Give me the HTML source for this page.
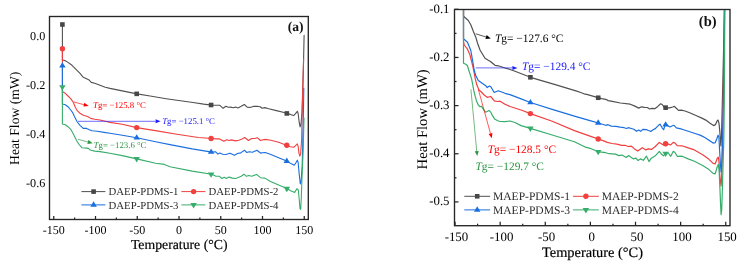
<!DOCTYPE html>
<html><head><meta charset="utf-8"><style>
html,body{margin:0;padding:0;background:#fff;width:746px;height:270px;overflow:hidden}
svg{display:block;font-family:"Liberation Serif",serif}
text{text-rendering:geometricPrecision}
svg{will-change:transform}
</style></head><body>
<svg width="746" height="270" viewBox="0 0 746 270"><clipPath id="ca"><rect x="49.5" y="16.5" width="258.8" height="203.0"/></clipPath>
<g clip-path="url(#ca)">
<polyline points="62.4,24.5 62.4,60.0 62.9,60.0 65.3,60.7 68.0,62.4 72.0,65.3 76.0,69.3 80.0,73.3 83.3,77.3 86.0,78.4 88.7,79.7 91.3,82.4 94.7,83.3 100.0,85.3 105.3,87.3 110.0,88.4 122.2,90.9 137.0,93.9 150.1,96.0 166.2,98.7 176.9,100.3 193.0,102.5 203.7,104.1 211.8,105.1 217.1,105.3 219.9,105.3 223.1,108.3 225.9,106.3 228.3,107.2 230.7,107.1 233.2,107.7 235.6,107.1 238.0,108.0 241.2,106.3 244.3,104.5 247.2,107.1 250.0,107.5 253.3,106.4 257.3,106.3 260.1,106.7 262.1,108.3 264.8,107.6 268.7,108.7 276.4,110.6 283.1,112.2 286.7,113.4 290.3,114.4 293.7,115.6 295.3,113.9 297.3,111.3 298.1,113.3 299.2,122.2 300.1,126.9 301.0,124.0 302.0,112.0 303.4,68.0 304.1,35.4" fill="none" stroke="#515151" stroke-width="1.1" stroke-linejoin="round" stroke-linecap="round" />
<polyline points="62.4,48.8 62.4,91.7 62.7,91.7 65.3,93.3 68.0,96.0 70.7,98.7 72.7,101.3 74.0,104.0 75.3,107.3 77.3,110.7 80.0,113.3 83.3,115.3 86.0,116.0 88.0,116.7 90.7,118.4 94.7,119.3 100.0,120.0 105.3,121.3 110.0,122.4 122.2,124.2 136.7,127.6 155.4,130.6 176.9,134.3 198.3,137.5 211.8,138.5 216.3,138.9 219.5,138.9 223.9,141.3 226.7,139.7 229.1,140.5 231.5,139.9 235.6,140.9 238.8,140.2 242.0,139.1 244.8,137.5 248.4,140.5 251.7,138.5 254.9,138.5 257.3,137.7 260.5,140.5 262.0,140.0 265.3,139.4 270.9,140.3 278.7,142.2 283.1,143.9 286.7,145.2 290.3,146.7 293.7,147.2 295.3,145.9 297.3,143.9 298.1,146.1 298.9,152.8 299.8,156.1 300.6,154.0 301.6,140.0 302.5,100.0 303.6,58.4" fill="none" stroke="#F14040" stroke-width="1.1" stroke-linejoin="round" stroke-linecap="round" />
<polyline points="62.4,65.8 62.4,104.0 62.7,104.0 65.3,104.7 68.0,106.7 70.7,110.0 72.7,112.7 74.7,116.9 77.3,122.0 80.0,125.3 83.3,128.4 86.7,128.4 89.3,129.7 92.0,130.7 97.3,131.3 104.0,132.4 110.0,133.3 122.2,135.2 136.7,137.8 155.6,141.8 170.0,144.6 192.2,148.9 211.8,152.1 215.5,151.7 217.9,154.1 219.9,153.1 222.7,154.2 225.9,154.5 229.9,153.3 234.4,155.3 238.0,153.3 240.4,153.1 244.4,150.2 246.8,152.5 249.2,151.7 252.5,152.3 256.9,150.2 260.9,153.3 262.0,152.8 265.3,152.6 270.9,154.6 278.7,157.8 284.2,160.0 287.0,161.3 290.9,163.6 294.2,165.2 295.9,162.8 297.3,160.2 298.1,162.2 299.2,173.9 300.3,183.9 301.1,182.0 302.2,165.0 303.3,120.0 303.8,88.0" fill="none" stroke="#1A6FDF" stroke-width="1.1" stroke-linejoin="round" stroke-linecap="round" />
<polyline points="62.4,87.0 62.4,124.0 62.7,124.0 65.3,124.7 68.0,126.7 70.7,129.3 72.7,132.7 74.7,136.7 76.7,140.7 78.7,144.0 82.0,147.8 86.7,148.1 88.4,148.4 90.2,150.0 94.7,151.1 100.0,151.6 110.0,153.3 122.2,155.6 136.7,158.9 155.6,163.3 164.4,164.4 170.0,166.7 192.2,171.1 211.8,174.3 215.5,176.1 219.5,176.3 221.9,178.5 224.3,177.3 226.3,178.5 229.1,177.1 232.4,178.1 235.6,178.5 238.8,177.3 241.2,176.3 244.0,174.2 246.4,176.3 248.8,175.5 251.7,176.3 256.5,174.4 260.5,177.7 264.9,178.1 270.0,181.3 278.0,184.7 284.0,187.3 287.1,188.7 290.7,190.7 294.7,192.4 296.9,188.7 298.3,190.0 299.1,198.0 300.0,208.7 300.7,209.3 301.3,198.0 301.7,186.0 302.0,178.0 303.2,150.0 304.0,118.0" fill="none" stroke="#37AD6B" stroke-width="1.1" stroke-linejoin="round" stroke-linecap="round" />
<rect x="60.10" y="22.20" width="4.6" height="4.6" fill="#474747"/>
<circle cx="62.40" cy="48.80" r="2.7" fill="#F14040"/>
<polygon points="59.15,67.60 65.65,67.60 62.40,62.20" fill="#1A6FDF"/>
<polygon points="59.15,85.20 65.65,85.20 62.40,90.60" fill="#37AD6B"/>
<rect x="134.40" y="91.54" width="4.6" height="4.6" fill="#474747"/>
<circle cx="136.70" cy="127.60" r="2.7" fill="#F14040"/>
<polygon points="133.45,139.60 139.95,139.60 136.70,134.20" fill="#1A6FDF"/>
<polygon points="133.45,157.10 139.95,157.10 136.70,162.50" fill="#37AD6B"/>
<rect x="208.80" y="102.71" width="4.6" height="4.6" fill="#474747"/>
<circle cx="211.10" cy="138.45" r="2.7" fill="#F14040"/>
<polygon points="207.85,153.79 214.35,153.79 211.10,148.39" fill="#1A6FDF"/>
<polygon points="207.85,172.39 214.35,172.39 211.10,177.79" fill="#37AD6B"/>
<rect x="284.50" y="111.13" width="4.6" height="4.6" fill="#474747"/>
<circle cx="286.80" cy="145.24" r="2.7" fill="#F14040"/>
<polygon points="283.55,163.01 290.05,163.01 286.80,157.61" fill="#1A6FDF"/>
<polygon points="283.55,186.76 290.05,186.76 286.80,192.16" fill="#37AD6B"/>
</g>
<line x1="74.0" y1="102.0" x2="83.88" y2="104.69" stroke="#FF0000" stroke-width="0.65"/><polygon points="88.70,106.00 83.35,106.62 84.40,102.76" fill="#FF0000"/>
<text x="93" y="108.4" font-size="8.8" fill="#FF0000" text-anchor="start" font-family="Liberation Serif" ><tspan font-style="italic">T</tspan>g= −125.8 °C</text>
<line x1="78.0" y1="121.3" x2="155.60" y2="121.30" stroke="#2020FF" stroke-width="0.65"/><polygon points="160.60,121.30 155.60,123.30 155.60,119.30" fill="#2020FF"/>
<text x="162.2" y="123.6" font-size="8.8" fill="#2020FF" text-anchor="start" font-family="Liberation Serif" ><tspan font-style="italic">T</tspan>g= −125.1 °C</text>
<line x1="78.0" y1="139.3" x2="87.88" y2="141.99" stroke="#2A9440" stroke-width="0.65"/><polygon points="92.70,143.30 87.35,143.92 88.40,140.06" fill="#2A9440"/>
<text x="93.6" y="147.6" font-size="8.8" fill="#2A9440" text-anchor="start" font-family="Liberation Serif" ><tspan font-style="italic">T</tspan>g= −123.6 °C</text>
<rect x="49.5" y="16.5" width="258.8" height="203.0" fill="none" stroke="#262626" stroke-width="1.35"/>
<line x1="53.75" y1="219.5" x2="53.75" y2="216.0" stroke="#262626" stroke-width="1.25"/>
<text x="53.85" y="233.5" font-size="12.0" fill="#000" text-anchor="middle" font-family="Liberation Serif" >-150</text>
<line x1="95.50" y1="219.5" x2="95.50" y2="216.0" stroke="#262626" stroke-width="1.25"/>
<text x="95.60" y="233.5" font-size="12.0" fill="#000" text-anchor="middle" font-family="Liberation Serif" >-100</text>
<line x1="137.25" y1="219.5" x2="137.25" y2="216.0" stroke="#262626" stroke-width="1.25"/>
<text x="137.35" y="233.5" font-size="12.0" fill="#000" text-anchor="middle" font-family="Liberation Serif" >-50</text>
<line x1="179.00" y1="219.5" x2="179.00" y2="216.0" stroke="#262626" stroke-width="1.25"/>
<text x="179.10" y="233.5" font-size="12.0" fill="#000" text-anchor="middle" font-family="Liberation Serif" >0</text>
<line x1="220.75" y1="219.5" x2="220.75" y2="216.0" stroke="#262626" stroke-width="1.25"/>
<text x="220.85" y="233.5" font-size="12.0" fill="#000" text-anchor="middle" font-family="Liberation Serif" >50</text>
<line x1="262.50" y1="219.5" x2="262.50" y2="216.0" stroke="#262626" stroke-width="1.25"/>
<text x="262.60" y="233.5" font-size="12.0" fill="#000" text-anchor="middle" font-family="Liberation Serif" >100</text>
<line x1="304.25" y1="219.5" x2="304.25" y2="216.0" stroke="#262626" stroke-width="1.25"/>
<text x="304.35" y="233.5" font-size="12.0" fill="#000" text-anchor="middle" font-family="Liberation Serif" >150</text>
<line x1="74.62" y1="219.5" x2="74.62" y2="217.5" stroke="#262626" stroke-width="1.25"/>
<line x1="116.38" y1="219.5" x2="116.38" y2="217.5" stroke="#262626" stroke-width="1.25"/>
<line x1="158.12" y1="219.5" x2="158.12" y2="217.5" stroke="#262626" stroke-width="1.25"/>
<line x1="199.88" y1="219.5" x2="199.88" y2="217.5" stroke="#262626" stroke-width="1.25"/>
<line x1="241.62" y1="219.5" x2="241.62" y2="217.5" stroke="#262626" stroke-width="1.25"/>
<line x1="283.38" y1="219.5" x2="283.38" y2="217.5" stroke="#262626" stroke-width="1.25"/>
<text x="45.3" y="39.699999999999996" font-size="12.2" fill="#000" text-anchor="end" font-family="Liberation Serif" >0.0</text>
<text x="45.3" y="88.7" font-size="12.2" fill="#000" text-anchor="end" font-family="Liberation Serif" >-0.2</text>
<text x="45.3" y="137.5" font-size="12.2" fill="#000" text-anchor="end" font-family="Liberation Serif" >-0.4</text>
<text x="45.3" y="186.70000000000002" font-size="12.2" fill="#000" text-anchor="end" font-family="Liberation Serif" >-0.6</text>
<text x="179.2" y="249.3" font-size="13.75" fill="#000" text-anchor="middle" font-family="Liberation Serif" stroke="#000" stroke-width="0.18">Temperature (°C)</text>
<text x="0" y="0" font-size="13.65" fill="#000" text-anchor="middle" font-family="Liberation Serif" transform="translate(19.4,118.3) rotate(-90)">Heat Flow (mW)</text>
<text x="303.5" y="31.2" font-size="13.6" fill="#111" text-anchor="end" font-family="Liberation Serif" font-weight="bold">(a)</text>
<line x1="81.4" y1="191.6" x2="105.4" y2="191.6" stroke="#515151" stroke-width="1"/>
<rect x="91.30" y="189.30" width="4.6" height="4.6" fill="#474747"/>
<text x="108.60000000000001" y="195.45" font-size="10.75" fill="#2a2a2a" text-anchor="start" font-family="Liberation Serif" >DAEP-PDMS-1</text>
<line x1="181.4" y1="191.6" x2="205.4" y2="191.6" stroke="#F14040" stroke-width="1"/>
<circle cx="193.60" cy="191.60" r="2.7" fill="#F14040"/>
<text x="208.6" y="195.45" font-size="10.75" fill="#2a2a2a" text-anchor="start" font-family="Liberation Serif" >DAEP-PDMS-2</text>
<line x1="81.4" y1="204.9" x2="105.4" y2="204.9" stroke="#1A6FDF" stroke-width="1"/>
<polygon points="90.35,206.70 96.85,206.70 93.60,201.30" fill="#1A6FDF"/>
<text x="108.60000000000001" y="208.75" font-size="10.75" fill="#2a2a2a" text-anchor="start" font-family="Liberation Serif" >DAEP-PDMS-3</text>
<line x1="181.4" y1="204.9" x2="205.4" y2="204.9" stroke="#37AD6B" stroke-width="1"/>
<polygon points="190.35,203.10 196.85,203.10 193.60,208.50" fill="#37AD6B"/>
<text x="208.6" y="208.75" font-size="10.75" fill="#2a2a2a" text-anchor="start" font-family="Liberation Serif" >DAEP-PDMS-4</text>
<clipPath id="cb"><rect x="454.5" y="9.5" width="275.5" height="216.2"/></clipPath>
<g clip-path="url(#cb)">
<polyline points="463.5,0.0 463.5,16.3 465.8,18.3 468.3,20.5 470.8,24.7 473.3,31.3 475.8,37.2 477.5,43.0 480.0,50.0 485.0,58.3 488.3,60.3 490.8,61.7 495.0,65.3 498.3,65.8 505.0,68.0 510.0,69.5 515.0,71.2 530.4,77.3 554.4,84.4 576.7,91.1 580.0,92.2 584.0,93.8 586.7,94.4 598.0,97.7 601.7,98.7 605.8,99.3 608.2,100.6 612.3,101.4 620.4,103.0 630.2,104.2 634.3,105.9 638.8,108.1 641.6,106.8 644.4,107.3 647.4,107.5 649.6,109.0 651.9,108.4 654.8,108.7 657.8,106.4 660.7,103.8 662.2,104.5 664.1,107.1 666.3,107.9 669.6,107.9 672.6,107.0 674.4,106.4 676.3,108.2 678.6,110.4 681.2,110.1 685.1,111.0 690.2,113.0 695.4,115.3 701.9,118.1 705.8,120.1 709.7,123.1 713.6,125.6 715.5,124.6 717.2,120.7 718.1,120.1 719.0,123.3 719.8,131.1 720.4,140.0 720.9,146.0 721.5,136.0 722.4,100.0 723.6,50.0 724.5,0.0" fill="none" stroke="#515151" stroke-width="1.2" stroke-linejoin="round" stroke-linecap="round" />
<polyline points="463.5,0.0 463.5,41.3 464.2,45.0 467.5,49.2 470.0,55.0 472.5,65.0 474.2,73.0 475.3,78.9 476.8,84.8 479.0,90.0 481.3,92.0 484.2,95.0 487.2,97.3 490.7,96.5 494.3,100.9 497.3,101.5 500.0,101.2 505.0,104.2 510.0,106.5 521.1,110.0 530.4,113.6 552.2,121.2 574.4,130.6 590.0,136.1 598.4,139.0 602.4,140.4 607.3,142.4 612.1,143.5 616.9,144.1 621.7,145.4 625.0,145.3 628.2,146.5 631.4,146.2 634.6,148.9 637.8,151.1 642.3,147.7 645.9,149.9 648.3,148.9 651.5,149.4 655.3,146.5 659.3,142.4 661.8,144.1 663.7,144.9 665.8,143.7 668.3,144.1 670.7,144.9 673.2,142.4 674.8,142.8 677.2,145.7 682.0,145.8 688.2,147.9 694.4,149.9 702.7,154.7 709.0,159.3 713.1,163.4 715.2,163.8 717.3,158.2 718.3,157.2 719.0,162.0 719.8,175.0 720.6,183.0 721.1,186.0 721.6,178.0 722.4,150.0 723.2,100.0 724.0,50.0 724.6,0.0" fill="none" stroke="#F14040" stroke-width="1.2" stroke-linejoin="round" stroke-linecap="round" />
<polyline points="463.5,0.0 463.5,38.8 467.5,42.2 470.8,50.5 472.5,60.0 474.2,70.0 475.8,75.8 478.3,80.5 482.5,83.5 485.8,85.8 487.2,87.5 489.4,86.0 490.8,86.7 494.2,92.5 498.3,90.8 505.0,93.3 510.0,94.6 521.1,98.9 530.4,102.5 552.2,109.4 574.4,116.1 590.0,120.6 598.4,123.0 601.6,124.0 605.7,125.3 608.1,124.7 611.3,126.1 616.1,126.3 620.1,127.1 624.2,127.7 626.6,128.5 628.2,127.7 631.4,128.5 633.8,129.3 636.6,131.3 638.6,130.1 640.7,131.3 642.7,129.3 646.7,129.7 648.3,130.5 651.1,131.3 653.1,129.7 655.3,128.6 658.5,125.3 660.1,124.2 662.1,127.8 663.7,129.7 665.0,125.3 666.3,124.2 668.3,126.1 669.9,127.0 672.4,125.8 674.0,125.3 676.4,127.8 679.7,128.6 682.0,129.2 688.2,131.3 694.4,133.3 700.7,135.4 704.8,137.5 709.0,140.2 713.1,143.1 715.2,142.7 716.9,138.5 718.1,135.2 718.9,137.0 719.6,150.0 720.4,164.0 721.1,172.0 721.7,165.0 722.6,140.0 723.4,100.0 724.2,50.0 724.7,0.0" fill="none" stroke="#1A6FDF" stroke-width="1.2" stroke-linejoin="round" stroke-linecap="round" />
<polyline points="463.5,0.0 463.5,63.3 465.8,64.2 467.5,65.8 468.7,70.0 471.6,78.9 474.1,92.0 475.3,96.7 476.5,100.9 478.3,105.0 480.1,106.8 481.3,106.2 483.0,108.6 485.4,112.1 487.2,111.5 489.0,110.4 490.7,112.1 492.5,115.7 494.9,119.3 498.4,121.0 500.0,121.4 505.0,121.7 510.0,121.0 515.0,122.5 521.1,125.6 530.4,128.4 552.2,135.0 574.4,141.7 585.6,147.2 590.0,148.3 598.4,151.8 601.7,152.1 605.8,152.7 609.0,153.7 615.6,154.1 618.8,155.6 622.1,155.1 626.2,157.4 628.6,155.6 633.5,158.9 635.9,158.2 638.0,160.5 640.4,158.9 643.3,160.3 646.5,156.2 649.0,161.6 651.4,158.2 655.3,155.8 659.3,151.4 661.8,154.6 663.4,155.8 666.3,152.8 668.3,153.0 670.7,156.3 673.2,151.4 674.8,152.2 677.2,156.3 682.0,156.2 688.2,158.9 694.4,161.3 702.7,165.5 709.0,169.6 713.1,173.4 715.2,173.8 717.3,166.5 718.3,164.5 719.1,170.0 720.0,190.0 720.6,205.0 721.1,214.6 721.7,210.0 722.2,195.0 722.9,170.0 723.8,140.0 724.3,100.0 724.6,50.0 724.9,0.0" fill="none" stroke="#37AD6B" stroke-width="1.2" stroke-linejoin="round" stroke-linecap="round" />
<rect x="528.10" y="75.00" width="4.6" height="4.6" fill="#474747"/>
<circle cx="530.40" cy="113.60" r="2.7" fill="#F14040"/>
<polygon points="527.15,104.30 533.65,104.30 530.40,98.90" fill="#1A6FDF"/>
<polygon points="527.15,126.60 533.65,126.60 530.40,132.00" fill="#37AD6B"/>
<rect x="595.90" y="95.45" width="4.6" height="4.6" fill="#474747"/>
<circle cx="598.20" cy="138.93" r="2.7" fill="#F14040"/>
<polygon points="594.95,124.74 601.45,124.74 598.20,119.34" fill="#1A6FDF"/>
<polygon points="594.95,149.92 601.45,149.92 598.20,155.32" fill="#37AD6B"/>
<rect x="663.30" y="105.35" width="4.6" height="4.6" fill="#474747"/>
<circle cx="665.60" cy="143.81" r="2.7" fill="#F14040"/>
<polygon points="662.35,126.59 668.85,126.59 665.60,121.19" fill="#1A6FDF"/>
<polygon points="662.35,151.72 668.85,151.72 665.60,157.12" fill="#37AD6B"/>
</g>
<line x1="475.8" y1="33.8" x2="486.03" y2="37.01" stroke="#000" stroke-width="0.65"/><polygon points="490.80,38.50 485.43,38.91 486.63,35.10" fill="#000"/>
<text x="495" y="41.9" font-size="11.4" fill="#000" text-anchor="start" font-family="Liberation Serif" ><tspan font-style="italic">T</tspan>g= −127.6 °C</text>
<line x1="475.8" y1="67.9" x2="512.40" y2="67.90" stroke="#2020FF" stroke-width="0.65"/><polygon points="517.40,67.90 512.40,69.90 512.40,65.90" fill="#2020FF"/>
<text x="522" y="70.2" font-size="11.4" fill="#2020FF" text-anchor="start" font-family="Liberation Serif" ><tspan font-style="italic">T</tspan>g= −129.4 °C</text>
<line x1="478.3" y1="89.3" x2="490.47" y2="133.48" stroke="#FF0000" stroke-width="0.65"/><polygon points="491.80,138.30 488.54,134.01 492.40,132.95" fill="#FF0000"/>
<text x="487.7" y="152.8" font-size="11.4" fill="#FF0000" text-anchor="start" font-family="Liberation Serif" ><tspan font-style="italic">T</tspan>g= −128.5 °C</text>
<line x1="470.9" y1="89.3" x2="476.73" y2="151.12" stroke="#2A9440" stroke-width="0.65"/><polygon points="477.20,156.10 474.74,151.31 478.72,150.93" fill="#2A9440"/>
<text x="475.5" y="169.9" font-size="11.4" fill="#2A9440" text-anchor="start" font-family="Liberation Serif" ><tspan font-style="italic">T</tspan>g= −129.7 °C</text>
<rect x="454.5" y="9.5" width="275.5" height="216.2" fill="none" stroke="#262626" stroke-width="1.35"/>
<line x1="455.05" y1="225.7" x2="455.05" y2="221.7" stroke="#262626" stroke-width="1.25"/>
<text x="456.45" y="240.6" font-size="12.9" fill="#000" text-anchor="middle" font-family="Liberation Serif" >-150</text>
<line x1="500.17" y1="225.7" x2="500.17" y2="221.7" stroke="#262626" stroke-width="1.25"/>
<text x="501.57" y="240.6" font-size="12.9" fill="#000" text-anchor="middle" font-family="Liberation Serif" >-100</text>
<line x1="545.28" y1="225.7" x2="545.28" y2="221.7" stroke="#262626" stroke-width="1.25"/>
<text x="546.68" y="240.6" font-size="12.9" fill="#000" text-anchor="middle" font-family="Liberation Serif" >-50</text>
<line x1="590.40" y1="225.7" x2="590.40" y2="221.7" stroke="#262626" stroke-width="1.25"/>
<text x="591.80" y="240.6" font-size="12.9" fill="#000" text-anchor="middle" font-family="Liberation Serif" >0</text>
<line x1="635.51" y1="225.7" x2="635.51" y2="221.7" stroke="#262626" stroke-width="1.25"/>
<text x="636.91" y="240.6" font-size="12.9" fill="#000" text-anchor="middle" font-family="Liberation Serif" >50</text>
<line x1="680.63" y1="225.7" x2="680.63" y2="221.7" stroke="#262626" stroke-width="1.25"/>
<text x="682.03" y="240.6" font-size="12.9" fill="#000" text-anchor="middle" font-family="Liberation Serif" >100</text>
<line x1="725.75" y1="225.7" x2="725.75" y2="221.7" stroke="#262626" stroke-width="1.25"/>
<text x="727.14" y="240.6" font-size="12.9" fill="#000" text-anchor="middle" font-family="Liberation Serif" >150</text>
<line x1="477.61" y1="225.7" x2="477.61" y2="223.7" stroke="#262626" stroke-width="1.25"/>
<line x1="522.73" y1="225.7" x2="522.73" y2="223.7" stroke="#262626" stroke-width="1.25"/>
<line x1="567.84" y1="225.7" x2="567.84" y2="223.7" stroke="#262626" stroke-width="1.25"/>
<line x1="612.96" y1="225.7" x2="612.96" y2="223.7" stroke="#262626" stroke-width="1.25"/>
<line x1="658.07" y1="225.7" x2="658.07" y2="223.7" stroke="#262626" stroke-width="1.25"/>
<line x1="703.19" y1="225.7" x2="703.19" y2="223.7" stroke="#262626" stroke-width="1.25"/>
<line x1="454.5" y1="9.30" x2="458.5" y2="9.30" stroke="#262626" stroke-width="1.25"/>
<text x="449.5" y="12.80" font-size="12.8" fill="#000" text-anchor="end" font-family="Liberation Serif" >-0.1</text>
<line x1="454.5" y1="57.45" x2="458.5" y2="57.45" stroke="#262626" stroke-width="1.25"/>
<text x="449.5" y="60.95" font-size="12.8" fill="#000" text-anchor="end" font-family="Liberation Serif" >-0.2</text>
<line x1="454.5" y1="105.60" x2="458.5" y2="105.60" stroke="#262626" stroke-width="1.25"/>
<text x="449.5" y="109.10" font-size="12.8" fill="#000" text-anchor="end" font-family="Liberation Serif" >-0.3</text>
<line x1="454.5" y1="153.75" x2="458.5" y2="153.75" stroke="#262626" stroke-width="1.25"/>
<text x="449.5" y="157.25" font-size="12.8" fill="#000" text-anchor="end" font-family="Liberation Serif" >-0.4</text>
<line x1="454.5" y1="201.90" x2="458.5" y2="201.90" stroke="#262626" stroke-width="1.25"/>
<text x="449.5" y="205.40" font-size="12.8" fill="#000" text-anchor="end" font-family="Liberation Serif" >-0.5</text>
<line x1="454.5" y1="33.38" x2="456.5" y2="33.38" stroke="#262626" stroke-width="1.25"/>
<line x1="454.5" y1="81.52" x2="456.5" y2="81.52" stroke="#262626" stroke-width="1.25"/>
<line x1="454.5" y1="129.67" x2="456.5" y2="129.67" stroke="#262626" stroke-width="1.25"/>
<line x1="454.5" y1="177.82" x2="456.5" y2="177.82" stroke="#262626" stroke-width="1.25"/>
<text x="592.5" y="257.4" font-size="14.4" fill="#000" text-anchor="middle" font-family="Liberation Serif" stroke="#000" stroke-width="0.18">Temperature (°C)</text>
<text x="0" y="0" font-size="14.65" fill="#000" text-anchor="middle" font-family="Liberation Serif" transform="translate(427.0,119.4) rotate(-90)">Heat Flow (mW)</text>
<text x="716.6" y="26.0" font-size="14.5" fill="#111" text-anchor="end" font-family="Liberation Serif" font-weight="bold">(b)</text>
<line x1="464.3" y1="196.3" x2="490.1" y2="196.3" stroke="#515151" stroke-width="1"/>
<rect x="474.90" y="194.00" width="4.6" height="4.6" fill="#474747"/>
<text x="493.0" y="200.4" font-size="11.55" fill="#2a2a2a" text-anchor="start" font-family="Liberation Serif" >MAEP-PDMS-1</text>
<line x1="573" y1="196.3" x2="598.8" y2="196.3" stroke="#F14040" stroke-width="1"/>
<circle cx="585.90" cy="196.30" r="2.7" fill="#F14040"/>
<text x="601.7" y="200.4" font-size="11.55" fill="#2a2a2a" text-anchor="start" font-family="Liberation Serif" >MAEP-PDMS-2</text>
<line x1="464.3" y1="209.9" x2="490.1" y2="209.9" stroke="#1A6FDF" stroke-width="1"/>
<polygon points="473.95,211.70 480.45,211.70 477.20,206.30" fill="#1A6FDF"/>
<text x="493.0" y="214.0" font-size="11.55" fill="#2a2a2a" text-anchor="start" font-family="Liberation Serif" >MAEP-PDMS-3</text>
<line x1="573" y1="209.9" x2="598.8" y2="209.9" stroke="#37AD6B" stroke-width="1"/>
<polygon points="582.65,208.10 589.15,208.10 585.90,213.50" fill="#37AD6B"/>
<text x="601.7" y="214.0" font-size="11.55" fill="#2a2a2a" text-anchor="start" font-family="Liberation Serif" >MAEP-PDMS-4</text></svg>
</body></html>
